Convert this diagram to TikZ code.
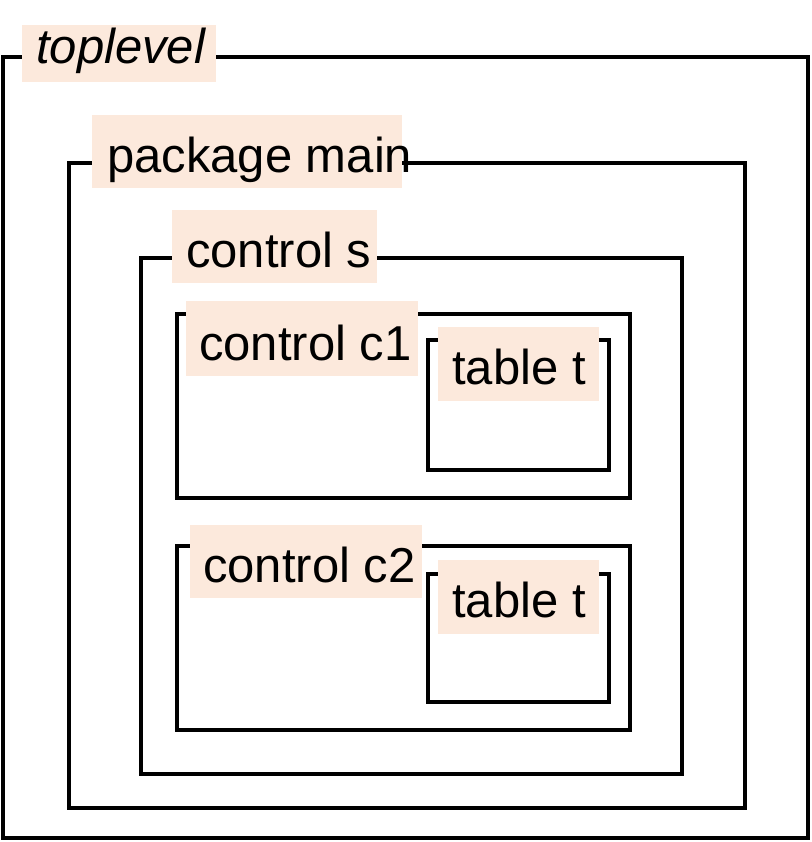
\documentclass[tikz,border=0pt]{standalone}
\usepackage{fontspec}
\setmainfont{Liberation Sans}
\begin{document}
\begin{tikzpicture}[x=1pt,y=-1pt,
  frame/.style={draw=black,line width=4pt,inner sep=0pt,anchor=north west},
  lab/.style={fill=labfill,inner sep=0pt,anchor=north west},
  txt/.style={anchor=base west,inner sep=0pt,font=\fontsize{49}{52}\selectfont},
]
\definecolor{labfill}{HTML}{FCE9DC}
\useasboundingbox (0,0) rectangle (811,842);
\node[frame,minimum width=805,minimum height=781] (top) at (1,55) {};
\node[frame,minimum width=676,minimum height=645] (pkg) at (67,161) {};
\node[frame,minimum width=541,minimum height=516] (cs) at (139,256) {};
\node[frame,minimum width=453,minimum height=184] (c1) at (175,312) {};
\node[frame,minimum width=181,minimum height=130] (t1) at (426,338) {};
\node[frame,minimum width=453,minimum height=184] (c2) at (175,544) {};
\node[frame,minimum width=181,minimum height=128] (t2) at (426,572) {};
\node[lab,minimum width=194,minimum height=57] (ltop) at (22,25) {};
\node[txt,font=\fontsize{49}{52}\selectfont\itshape] (ttop) at (36,64) {toplevel};
\node[lab,minimum width=310,minimum height=73] (lpkg) at (92,115) {};
\node[txt] (tpkg) at (107,173) {package main};
\node[lab,minimum width=205,minimum height=73] (lcs) at (172,210) {};
\node[txt] (tcs) at (186,267) {control s};
\node[lab,minimum width=232,minimum height=75] (lc1) at (186,301) {};
\node[txt] (tc1) at (199,360) {control c1};
\node[lab,minimum width=161,minimum height=74] (lt1) at (438,327) {};
\node[txt] (tt1) at (452,384) {table t};
\node[lab,minimum width=232,minimum height=73] (lc2) at (190,525) {};
\node[txt] (tc2) at (203,582) {control c2};
\node[lab,minimum width=161,minimum height=74] (lt2) at (438,560) {};
\node[txt] (tt2) at (452,617) {table t};
\end{tikzpicture}
\end{document}
